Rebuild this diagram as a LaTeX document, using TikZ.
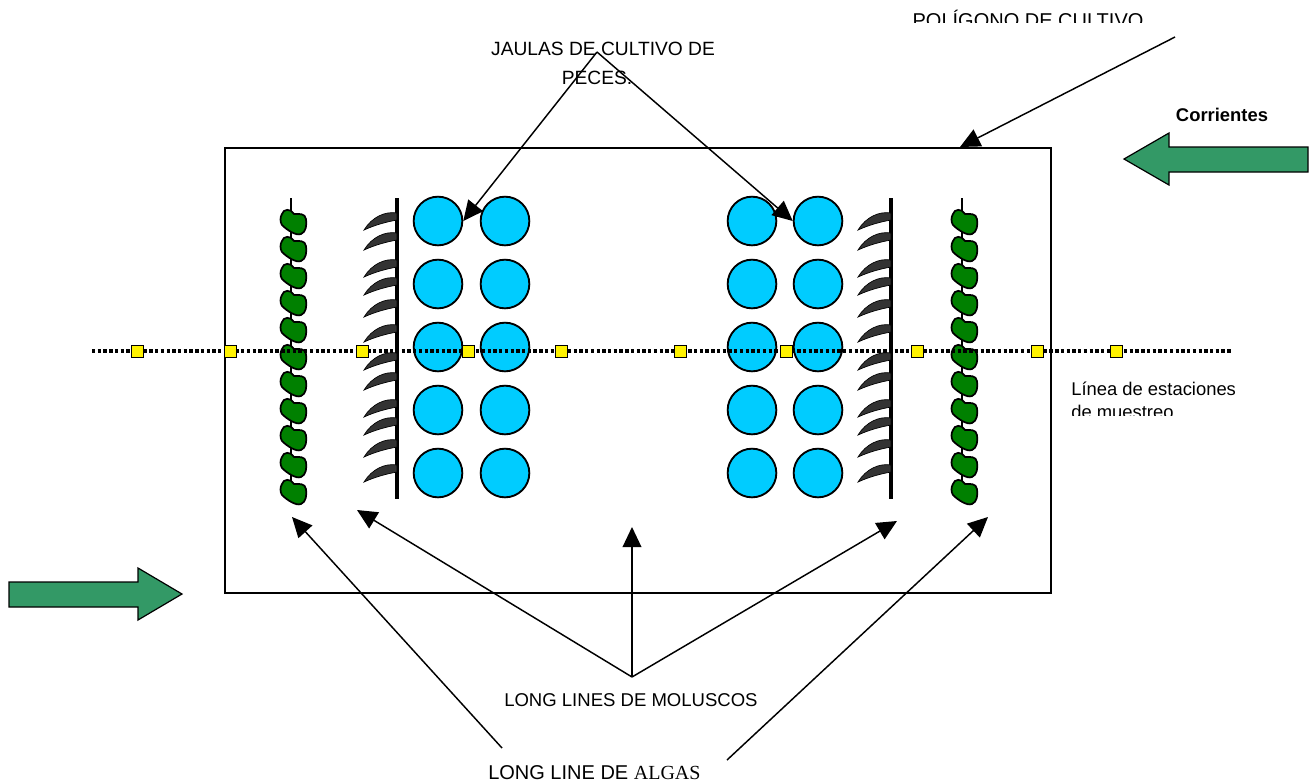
\documentclass[tikz,border=0pt]{standalone}
\usepackage{fontspec}
\setmainfont{Liberation Sans}
\newfontfamily\timesfont{Liberation Serif}
\usetikzlibrary{arrows.meta}

\tikzset{
  cage/.style={circle, draw, line width=1.4pt, fill={rgb,255:red,0;green,204;blue,255}, minimum size=36.5pt, inner sep=0pt},
  station/.style={draw, line width=0.7pt, fill=yellow, minimum size=9pt, inner sep=0pt},
  pointer/.style={line width=1.1pt, -{Triangle[length=15pt,width=14pt]}},
  leaf/.style={draw, line width=1.3pt, fill={rgb,255:red,0;green,128;blue,0}},
  blade/.style={draw, line width=0.5pt, fill={rgb,255:red,51;green,51;blue,51}},
  flow/.style={draw, line width=0.9pt, fill={rgb,255:red,51;green,153;blue,102}},
  longline/.style={line width=2.4pt},
  label/.style={inner sep=0pt, font=\fontsize{13.8}{17}\selectfont},
}

\begin{document}
\begin{tikzpicture}[x=0.75pt,y=0.75pt,yscale=-1,xscale=1]
\useasboundingbox (0,0) rectangle (1315,783);

%Polygon of culture
\draw[line width=0.9pt] (225,148) rectangle (1051,593);
\coordinate (box-top) at (960,147);

%Currents
\draw[flow] (9,582) -- (138,582) -- (138,568) -- (182,594) -- (138,620) -- (138,607) -- (9,607) -- cycle;
\draw[flow] (1308,147) -- (1169,147) -- (1169,133) -- (1124,159) -- (1169,185) -- (1169,172) -- (1308,172) -- cycle;

%Long lines of molluscs
\foreach \lx in {397,891}{
  \draw[longline] (\lx,198) -- (\lx,499);
  \foreach \y in {213,233,260,278,300,325,353,373,400,418,440,465}{
    \draw[blade] (\lx,\y) .. controls (\lx-12,\y-2) and (\lx-25,\y+4) .. (\lx-33,\y+17)
      .. controls (\lx-22,\y+12) and (\lx-11,\y+9) .. (\lx,\y+7) -- cycle;
  }
}

%Long lines of algae
\foreach \lx in {291,962}{
  \draw[line width=2pt] (\lx,198) -- (\lx,500);
  \foreach \y in {222,249,...,492}{
    \draw[leaf] (\lx-9,\y-8) .. controls (\lx-8,\y-13) and (\lx,\y-14) .. (\lx+3,\y-8)
      .. controls (\lx+8,\y-8) and (\lx+14,\y-9) .. (\lx+15,\y-3)
      .. controls (\lx+16,\y+3) and (\lx+15,\y+10) .. (\lx+10,\y+12)
      .. controls (\lx+5,\y+14) and (\lx-4,\y+8) .. (\lx-9,\y+3)
      .. controls (\lx-11,\y) and (\lx-11,\y-5) .. (\lx-9,\y-8) -- cycle;
  }
}

%Fish cages
\foreach \y [count=\r] in {221,284,347,410,473}{
  \node[cage] (cage-a\r) at (438,\y) {};
  \node[cage] (cage-b\r) at (505,\y) {};
  \node[cage] (cage-c\r) at (752,\y) {};
  \node[cage] (cage-d\r) at (818,\y) {};
}

%Sampling stations
\coordinate (line-w) at (92,351);
\coordinate (line-e) at (1232,351);
\draw[line width=2.5pt, dash pattern=on 2.5pt off 1.8pt] (line-w) -- (line-e);
\foreach \x [count=\i] in {137,230,362,468,561,680,786,917,1037,1116}
  \node[station] (st-\i) at (\x,351) {};

% Text Node
\node[label, anchor=base, font=\fontsize{14.4}{17}\selectfont] (jaulas) at (603,55) {JAULAS DE CULTIVO DE};
\node[label, anchor=base, font=\fontsize{14.4}{17}\selectfont] (peces) at (597,84) {PECES.};
\node[label, anchor=base, font=\fontsize{13.8}{17}\selectfont\bfseries] (corrientes) at (1222,121) {Corrientes};
\begin{scope}
  \clip (880,0) rectangle (1180,22.5);
  \node[label, anchor=base, font=\fontsize{15}{17}\selectfont] (poligono) at (1028,27) {POLÍGONO DE CULTIVO};
\end{scope}
\begin{scope}
  \clip (1060,370) rectangle (1260,415);
  \node[label, anchor=base west] (muestreo) at (1071,395) {Línea de estaciones};
  \node[label, anchor=base west] (muestreo2) at (1071,418) {de muestreo};
\end{scope}
\node[label, anchor=base west, font=\fontsize{13.9}{17}\selectfont] (moluscos) at (504,706) {LONG LINES DE MOLUSCOS};
\node[label, anchor=base west, font=\fontsize{15}{17}\selectfont] (algas) at (488,779) {LONG LINE DE {\timesfont ALGAS}};

%Arrows
\coordinate (jaulas-fork) at (597,52);
\draw[pointer] (jaulas-fork) -- (cage-a1.east);
\draw[pointer] (jaulas-fork) -- (cage-d1.west);
\coordinate (poligono-tail) at (1175,37);
\draw[pointer] (poligono-tail) -- (box-top);
\coordinate (moluscos-fork) at (632,677);
\draw[pointer] (moluscos-fork) -- (357,510);
\draw[pointer] (moluscos-fork) -- (632,527);
\draw[pointer] (moluscos-fork) -- (897,521);
\coordinate (algas-l) at (502,748);
\coordinate (algas-r) at (727,760);
\draw[pointer] (algas-l) -- (292,517);
\draw[pointer] (algas-r) -- (988,517);

\end{tikzpicture}
\end{document}
